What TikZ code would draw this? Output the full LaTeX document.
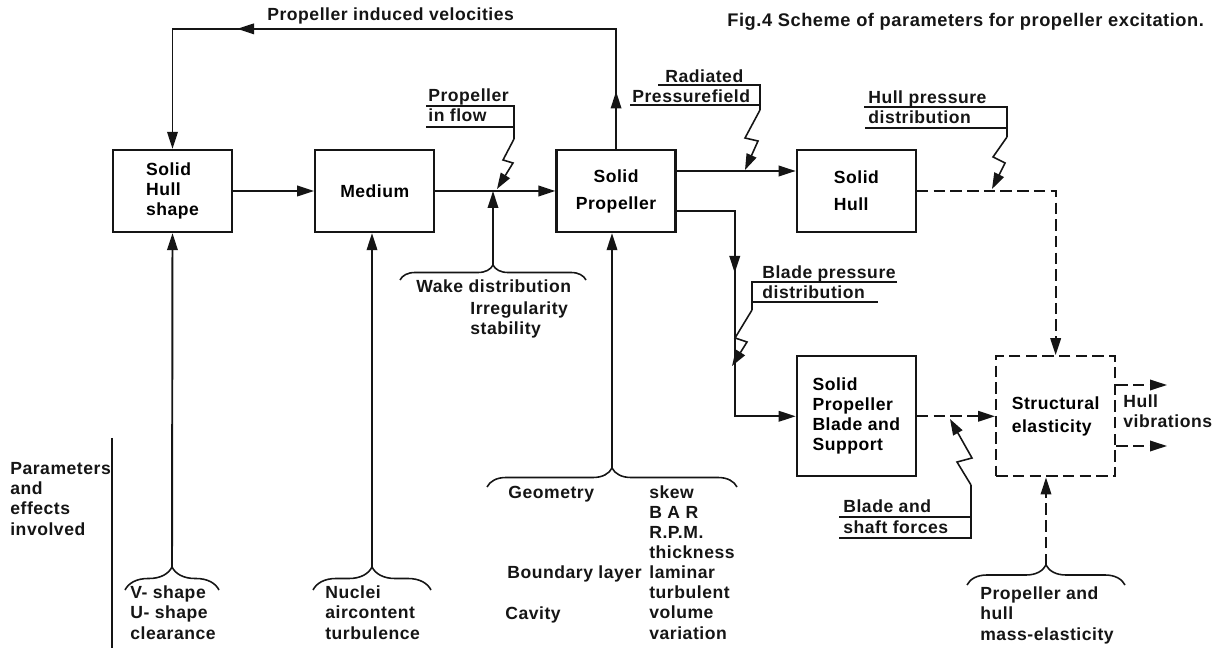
\documentclass[tikz,border=0pt]{standalone}
\usepackage{fontspec}
\setmainfont{Liberation Sans}[LetterSpace=3]
\usepackage{tikz}
\usetikzlibrary{arrows.meta,positioning,calc,decorations.pathreplacing,decorations.markings}
\definecolor{ScanInk}{HTML}{151515}
\tikzset{
  inktip/.tip={Triangle[length=3.4mm,width=2.1mm]},
  partbox/.style={draw=ScanInk,line width=1.3pt,minimum width=23.8mm,minimum height=16.4mm,align=left,inner sep=2pt},
  feedarrow/.style={-{inktip},line width=1.1pt,draw=ScanInk},
  dashfeed/.style={feedarrow,dash pattern=on 6.5pt off 3pt},
  midtip/.style={postaction={decorate},decoration={markings,mark=at position #1 with {\arrow{inktip}}}},
  twotips/.style 2 args={postaction={decorate},decoration={markings,mark=at position #1 with {\arrow{inktip}},mark=at position #2 with {\arrow{inktip}}}},
  tagline/.style={line width=0.9pt,draw=ScanInk},
  boltarrow/.style={tagline,-{Triangle[length=3.2mm,width=2.1mm]}},
  pbrace/.style={tagline,decorate,decoration={brace,amplitude=#1}},
  lbl/.style={anchor=base west,inner sep=0pt,align=left,text=ScanInk}
}

\begin{document}
\begin{tikzpicture}[x=0.2mm,y=-0.2mm,font=\fontsize{10}{11.4}\selectfont\bfseries]
\useasboundingbox (0,0) rectangle (1217,648);

% main chain of parts
\node[partbox] (hullshape) at (172.5,191) {Solid\\Hull\\shape};
\node[partbox,right=16.2mm of hullshape,align=center] (medium) {Medium};
\node[partbox,right=24mm of medium,align=center] (prop) {Solid\\[4pt]Propeller};
\node[partbox,right=23.8mm of prop] (hull) {Solid\\[4pt]Hull};
\node[partbox,below=24.4mm of hull,minimum height=24mm] (blade) {Solid\\Propeller\\Blade and\\Support};
\node[partbox,right=15.6mm of blade,minimum height=24mm,dash pattern=on 6.5pt off 3pt] (struct) {Structural\\[2pt]elasticity};

\node[lbl] (induced) at (267,21) {Propeller induced velocities};
\node[lbl,font=\fontsize{10.4}{12}\selectfont\bfseries] (figtitle) at (727,27) {Fig.4 Scheme of parameters for propeller excitation.};

% flow connectors
\coordinate (wakehit) at (493,191);
\draw[feedarrow] (hullshape) -- (medium);
\draw[feedarrow] (medium) -- (prop);
\draw[feedarrow,twotips={0.084}{0.73}] (prop.north) -- ++(0,-120) -| (hullshape.north);
\draw[feedarrow] ([yshift=4mm]prop.east) -- ([yshift=4mm]prop.east -| hull.west);
\draw[feedarrow,midtip=0.37] ([yshift=-4mm]prop.east) -- ++(58,0) |- (blade.west);
\draw[dashfeed] (hull) -| (struct);
\draw[dashfeed] (blade) -- (struct);

% hull vibrations
\coordinate (vibA) at (1167,385);
\coordinate (vibB) at (1167,446);
\draw[dashfeed] (struct.east |- vibA) -- (vibA);
\draw[dashfeed] (struct.east |- vibB) -- (vibB);
\node[lbl] (vibr) at (1123,428) {Hull\\vibrations};

% tagged excitations
\node[lbl] (inflow) at (428,122) {Propeller\\in flow};
\draw[tagline] (426,106) -- (514,106) -- (514,139);
\draw[tagline] (426,127) -- (514,127);
\draw[boltarrow] (514,139) -- (503,160) -- (513,163) -- (497,189);

\node[lbl] (radiated) at (665,83) {Radiated};
\node[lbl] (pfield) at (632,103) {Pressurefield};
\draw[tagline] (658,85) -- (760,85) -- (760,110);
\draw[tagline] (630,105) -- (760,105);
\draw[boltarrow] (760,110) -- (745,138) -- (758,141) -- (745,170);

\node[lbl] (hullpress) at (868,124) {Hull pressure\\distribution};
\draw[tagline] (864,107) -- (1007,107) -- (1007,137);
\draw[tagline] (865,128) -- (1007,128);
\draw[boltarrow] (1007,137) -- (993,157) -- (1005,163) -- (992,189);

\node[lbl] (bladepress) at (762,299) {Blade pressure\\distribution};
\draw[tagline] (897,282) -- (752,282) -- (752,310);
\draw[tagline] (752,302) -- (878,302);
\draw[boltarrow] (752,310) -- (735,338) -- (747,342) -- (732,366);

\node[lbl] (forces) at (843,533) {Blade and\\shaft forces};
\draw[tagline] (839,517) -- (971,517);
\draw[tagline] (839,538) -- (971,538) -- (971,485);
\draw[boltarrow] (971,485) -- (957,462) -- (972,458) -- (950,419);

% parameters and effects
\node[lbl] (params) at (10,535) {Parameters\\and\\effects\\involved};
\draw[tagline] (112,438) -- (112,648);

\draw[pbrace=4.6mm] (125,590) -- (219,590);
\coordinate (vtip) at (172,567);
\draw[feedarrow] (vtip) -- (hullshape.south);
\node[lbl] (vshape) at (130,639) {V- shape\\U- shape\\clearance};

\draw[pbrace=4.6mm] (313,590) -- (431,590);
\coordinate (ntip) at (372,567);
\draw[feedarrow] (ntip) -- (ntip |- medium.south);
\node[lbl] (nuclei) at (325,639) {Nuclei\\aircontent\\turbulence};

\draw[pbrace=3mm] (400,280) -- (586,280);
\coordinate (wtip) at (493,265);
\draw[feedarrow] (wtip) -- (wakehit);
\node[lbl] (wake) at (416,293) {Wake distribution};
\node[lbl] (irreg) at (470,335) {Irregularity\\stability};

\draw[pbrace=3.8mm] (487,487) -- (737,487);
\coordinate (ptip) at (612,468);
\draw[feedarrow] (ptip) -- (ptip |- prop.south);
\node[lbl] (geom) at (508,498) {Geometry};
\node[lbl] (blayer) at (507,578) {Boundary layer};
\node[lbl] (cavity) at (505,619) {Cavity};
\node[lbl] (proplist) at (649,639) {skew\\B A R\\R.P.M.\\thickness\\laminar\\turbulent\\volume\\variation};

\draw[pbrace=4mm] (967,585) -- (1125,585);
\coordinate (mtip) at (1046,565);
\draw[dashfeed] (mtip) -- (mtip |- struct.south);
\node[lbl] (masselast) at (980,640) {Propeller and\\hull\\mass-elasticity};
\end{tikzpicture}
\end{document}
